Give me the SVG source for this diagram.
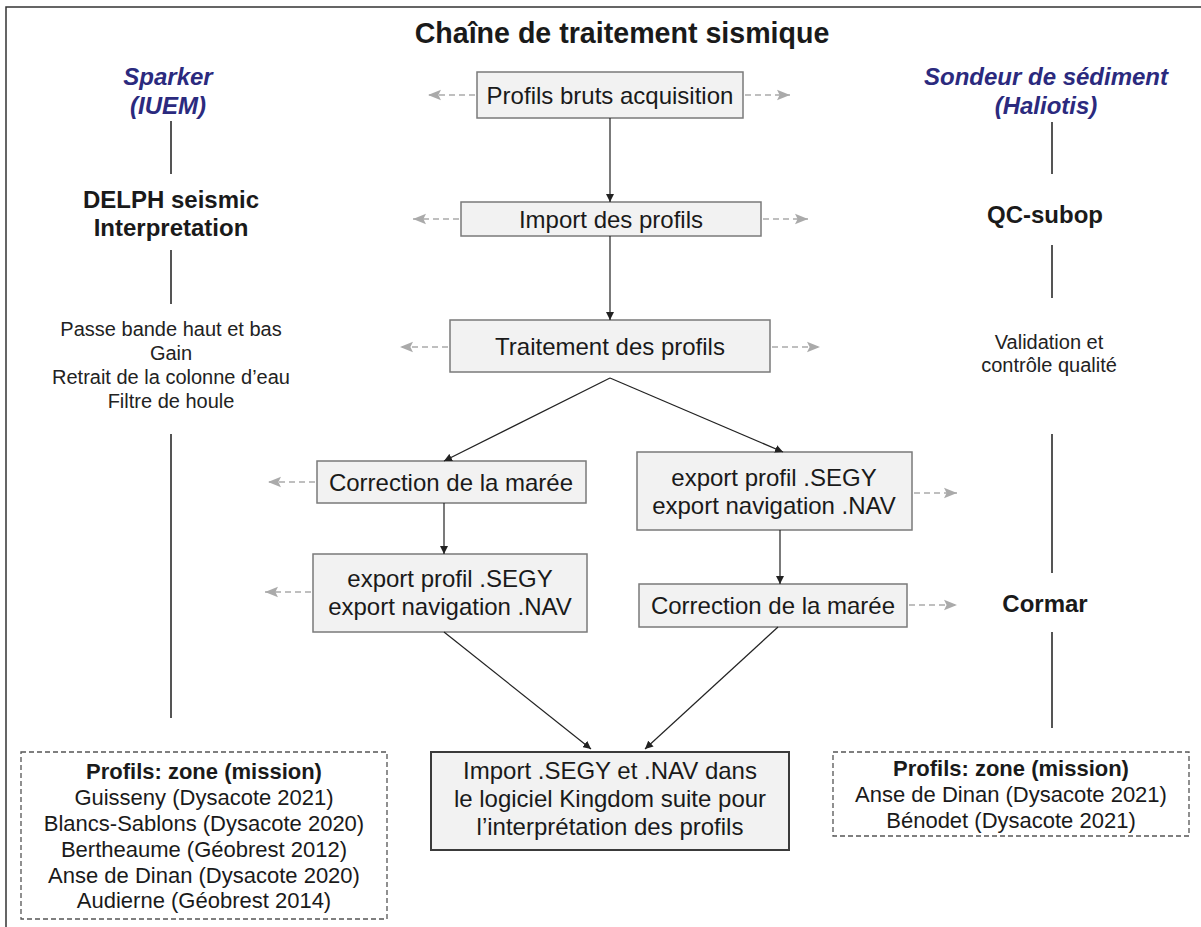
<svg xmlns="http://www.w3.org/2000/svg" width="1201" height="927" viewBox="0 0 1201 927">
<defs>
<marker id="ah" viewBox="0 0 10 10" refX="10" refY="5" markerWidth="8" markerHeight="8" markerUnits="userSpaceOnUse" orient="auto"><path d="M0,0 L10,5 L0,10 z" fill="#222"/></marker>
<marker id="gh" viewBox="0 0 10 10" refX="10" refY="5" markerWidth="13" markerHeight="13" markerUnits="userSpaceOnUse" orient="auto"><path d="M0,1 L10,5 L0,9 L2,5 z" fill="#aaa"/></marker>
<style>
text{font-family:"Liberation Sans",Arial,sans-serif;fill:#1a1a1a;text-anchor:middle}
.title{font-size:28.6px;font-weight:bold}
.src{font-size:24px;font-weight:bold;font-style:italic;fill:#2b2a7e}
.sw{font-size:24px;font-weight:bold}
.note{font-size:20px;fill:#222}
.bt{font-size:24px}
.lt{font-size:22px}
.lh{font-size:22px;font-weight:bold}
.box{fill:#f2f2f2;stroke:#7a7a7a;stroke-width:1.5}
.fbox{fill:#f2f2f2;stroke:#3a3a3a;stroke-width:2}
.dbox{fill:none;stroke:#555;stroke-width:1.3;stroke-dasharray:5 3}
.vl{stroke:#555;stroke-width:2}
.ar{stroke:#222;stroke-width:1.2;fill:none;marker-end:url(#ah)}
.da{stroke:#aaa;stroke-width:1.6;stroke-dasharray:6 4;fill:none;marker-end:url(#gh)}
</style>
</defs>
<rect x="0" y="0" width="1201" height="927" fill="#fff"/>
<rect x="6" y="7" width="1220" height="940" fill="none" stroke="#333" stroke-width="1.5"/>
<text class="title" x="622" y="43">Chaîne de traitement sismique</text>

<g id="left-column">
<text class="src" x="168" y="85">Sparker</text>
<text class="src" x="168" y="114">(IUEM)</text>
<line class="vl" x1="171" y1="121" x2="171" y2="174"/>
<text class="sw" x="171" y="208">DELPH seismic</text>
<text class="sw" x="171" y="236">Interpretation</text>
<line class="vl" x1="171" y1="250" x2="171" y2="304"/>
<text class="note" x="171" y="336">Passe bande haut et bas</text>
<text class="note" x="171" y="360">Gain</text>
<text class="note" x="171" y="384">Retrait de la colonne d’eau</text>
<text class="note" x="171" y="408">Filtre de houle</text>
<line class="vl" x1="171" y1="434" x2="171" y2="718"/>
</g>

<g id="right-column">
<text class="src" x="1046" y="85">Sondeur de sédiment</text>
<text class="src" x="1046" y="114">(Haliotis)</text>
<line class="vl" x1="1052" y1="122" x2="1052" y2="174"/>
<text class="sw" x="1045" y="223">QC-subop</text>
<line class="vl" x1="1052" y1="245" x2="1052" y2="298"/>
<text class="note" x="1049" y="349">Validation et</text>
<text class="note" x="1049" y="372">contrôle qualité</text>
<line class="vl" x1="1052" y1="434" x2="1052" y2="573"/>
<text class="sw" x="1045" y="612">Cormar</text>
<line class="vl" x1="1052" y1="632" x2="1052" y2="728"/>
</g>

<g id="n-bruts"><rect class="box" x="477" y="72" width="266" height="46"/><text class="bt" x="610" y="104">Profils bruts acquisition</text></g>
<g id="n-import"><rect class="box" x="461" y="202" width="300" height="34"/><text class="bt" x="611" y="228">Import des profils</text></g>
<g id="n-traitement"><rect class="box" x="450" y="320" width="320" height="52"/><text class="bt" x="610" y="355">Traitement des profils</text></g>
<g id="n-maree-l"><rect class="box" x="317" y="461" width="269" height="42"/><text class="bt" x="451" y="491">Correction de la marée</text></g>
<g id="n-export-l"><rect class="box" x="313" y="554" width="274" height="78"/><text class="bt" x="450" y="587">export profil .SEGY</text><text class="bt" x="450" y="615">export navigation .NAV</text></g>
<g id="n-export-r"><rect class="box" x="637" y="452" width="275" height="78"/><text class="bt" x="774" y="486">export profil .SEGY</text><text class="bt" x="774" y="514">export navigation .NAV</text></g>
<g id="n-maree-r"><rect class="box" x="639" y="584" width="268" height="43"/><text class="bt" x="773" y="614">Correction de la marée</text></g>
<g id="n-kingdom"><rect class="fbox" x="431" y="752" width="358" height="98"/><text class="bt" x="610" y="779">Import .SEGY et .NAV dans</text><text class="bt" x="610" y="807">le logiciel Kingdom suite pour</text><text class="bt" x="610" y="835">l’interprétation des profils</text></g>

<g id="n-profils-l"><rect class="dbox" x="21" y="752" width="366" height="167"/>
<text class="lh" x="204" y="779">Profils: zone (mission)</text>
<text class="lt" x="204" y="805">Guisseny (Dysacote 2021)</text>
<text class="lt" x="204" y="831">Blancs-Sablons (Dysacote 2020)</text>
<text class="lt" x="204" y="857">Bertheaume (Géobrest 2012)</text>
<text class="lt" x="204" y="883">Anse de Dinan (Dysacote 2020)</text>
<text class="lt" x="204" y="908">Audierne (Géobrest 2014)</text>
</g>
<g id="n-profils-r"><rect class="dbox" x="833" y="752" width="356" height="84"/>
<text class="lh" x="1011" y="776">Profils: zone (mission)</text>
<text class="lt" x="1011" y="802">Anse de Dinan (Dysacote 2021)</text>
<text class="lt" x="1011" y="828">Bénodet (Dysacote 2021)</text>
</g>

<g id="connectors">
<line class="ar" x1="610" y1="118" x2="610" y2="202"/>
<line class="ar" x1="610" y1="236" x2="610" y2="320"/>
<line class="ar" x1="610" y1="378" x2="444" y2="461"/>
<line class="ar" x1="610" y1="378" x2="783" y2="452"/>
<line class="ar" x1="444" y1="503" x2="444" y2="554"/>
<line class="ar" x1="780" y1="530" x2="780" y2="584"/>
<line class="ar" x1="444" y1="632" x2="591" y2="749"/>
<line class="ar" x1="778" y1="627" x2="645" y2="749"/>
<line class="da" x1="475" y1="95" x2="428" y2="95"/>
<line class="da" x1="745" y1="95" x2="790" y2="95"/>
<line class="da" x1="459" y1="219" x2="413" y2="219"/>
<line class="da" x1="763" y1="219" x2="808" y2="219"/>
<line class="da" x1="448" y1="347" x2="400" y2="347"/>
<line class="da" x1="772" y1="347" x2="820" y2="347"/>
<line class="da" x1="315" y1="482" x2="268" y2="482"/>
<line class="da" x1="311" y1="592" x2="265" y2="592"/>
<line class="da" x1="914" y1="493" x2="957" y2="493"/>
<line class="da" x1="909" y1="605" x2="957" y2="605"/>
</g>
</svg>
